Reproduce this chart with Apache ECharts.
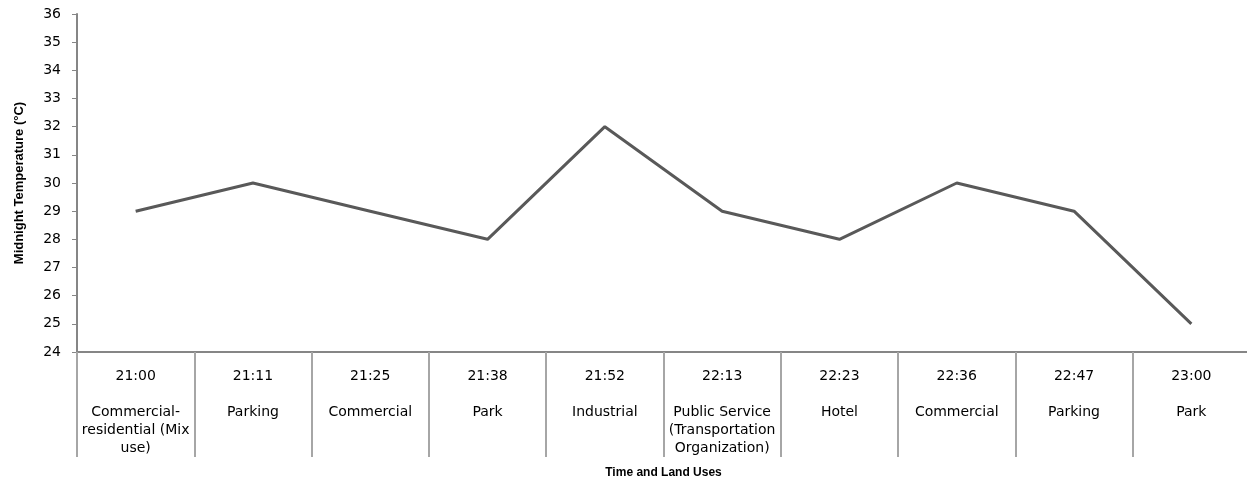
<!DOCTYPE html>
<html>
<head>
<meta charset="utf-8">
<script src="https://cdn.jsdelivr.net/npm/echarts@6/dist/echarts.min.js"></script>
<style>html,body{margin:0;padding:0;background:#fff}#c{width:1247px;height:481px}</style>
</head>
<body>
<div id="c"></div>
<script>
const times = ['21:00','21:11','21:25','21:38','21:52','22:13','22:23','22:36','22:47','23:00'];
const landUses = ['Commercial-\nresidential (Mix\nuse)','Parking','Commercial','Park','Industrial','Public Service\n(Transportation\nOrganization)','Hotel','Commercial','Parking','Park'];
const temperatures = [29,30,29,28,32,29,28,30,29,25];
const yTicks = {min:24, max:36, interval:1};

const categories = times.map((t,i)=>t+'\n\n'+landUses[i]);

const chart = echarts.init(document.getElementById('c'));
chart.setOption({
  animation:false,
  grid:{left:77,right:-3,top:14,bottom:129,containLabel:false,outerBoundsMode:'none'},
  xAxis:{
    type:'category',
    data:categories,
    boundaryGap:true,
    name:'Time and Land Uses',
    nameLocation:'middle',
    nameGap:115,
    nameTextStyle:{fontFamily:'Liberation Sans',fontWeight:'bold',fontSize:12,color:'#000'},
    axisLine:{lineStyle:{color:'#868686',width:2}},
    axisTick:{show:true,length:105,lineStyle:{color:'#a6a6a6',width:2},interval:0},
    axisLabel:{interval:0,margin:15,fontFamily:'DejaVu Sans',fontSize:14,lineHeight:18,color:'#000',align:'center',verticalAlign:'top'},
    splitLine:{show:false}
  },
  yAxis:{
    type:'value',
    min:yTicks.min,max:yTicks.max,interval:yTicks.interval,
    name:'Midnight Temperature (°C)',
    nameLocation:'middle',
    nameGap:51,
    nameRotate:90,
    nameTextStyle:{fontFamily:'Liberation Sans',fontWeight:'bold',fontSize:13,color:'#000'},
    axisLine:{show:true,lineStyle:{color:'#868686',width:2}},
    axisTick:{show:true,length:5,lineStyle:{color:'#868686',width:1}},
    axisLabel:{margin:16,fontFamily:'DejaVu Sans',fontSize:14,color:'#000'},
    splitLine:{show:false}
  },
  series:[{
    type:'line',
    data:temperatures,
    symbol:'none',
    lineStyle:{color:'#595959',width:3},
    itemStyle:{color:'#595959'}
  }]
});
</script>
</body>
</html>
